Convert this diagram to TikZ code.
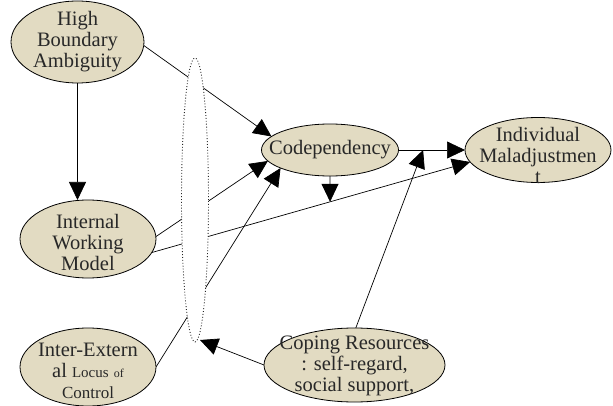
\documentclass[tikz,border=0pt]{standalone}
\usepackage{fontspec}
\setmainfont{Liberation Serif}
\usetikzlibrary{arrows.meta,backgrounds,shapes.geometric}
\definecolor{beige}{RGB}{226,219,194}
\definecolor{txtc}{RGB}{40,40,40}
\tikzset{
  elps/.style={ellipse, draw=black, line width=0.8pt, fill=beige, inner sep=0pt, outer sep=0pt},
  dotel/.style={ellipse, draw=black!85, dotted, line width=0.9pt, fill=white, inner sep=0pt, outer sep=0pt},
  txt/.style={align=center, inner sep=0pt, text=txtc, font=\fontsize{20.5}{21}\selectfont},
  conn/.style={draw=black, line width=0.7pt},
  arr/.style={conn, -{Triangle[length=18pt,width=17pt]}}
}
\begin{document}
\begin{tikzpicture}[x=1pt,y=-1pt]
\useasboundingbox (0,0) rectangle (613,406);
% ellipses
\node[elps, minimum width=133pt, minimum height=82pt] (hba) at (77.5,42) {};
\node[elps, minimum width=136pt, minimum height=78pt] (iwm) at (88,239) {};
\node[elps, minimum width=136pt, minimum height=78pt] (iel) at (88,367) {};
\node[elps, minimum width=137pt, minimum height=52pt] (codep) at (330,150) {};
\node[elps, minimum width=146pt, minimum height=65pt] (im) at (538,150) {};
\node[elps, minimum width=181pt, minimum height=74pt] (cop) at (354.5,365) {};
\node[dotel, minimum width=27pt, minimum height=284pt] (dot) at (195,200) {};
% texts
\node[txt] (hbat) at (77.5,42) {High\\Boundary\\Ambiguity};
\node[txt] (iwmt) at (88,242) {Internal\\Working\\Model};
\node[txt] (ielt) at (88,371) {Inter-Extern\\al {\fontsize{15}{21}\selectfont Locus} {\fontsize{12}{21}\selectfont of}\\{\fontsize{17}{21}\selectfont Control}};
\node[txt] (codept) at (330,150) {Codependency};
\node[txt] (imt) at (538,155) {Individual\\Maladjustmen\\t};
\node[txt] (copt) at (354.5,366) {Coping Resources\\: self-regard,\\social support,};
% connectors
\begin{pgfonlayer}{background}
\path (iwm.-12) -- (im.190) coordinate[pos=0.56] (m1);
\path (codep.east) -- (im.west) coordinate[pos=0.37] (m2);
\coordinate (dt) at (200,340);
\draw[arr] (hba.-3) -- (codep.167);
\draw[arr] (hba.south) -- (hba.south |- iwm.north);
\draw[arr] (iwm.2) -- (codep.190);
\draw[arr] (iwm.-12) -- (im.190);
\draw[arr] (iel.0) -- (codep.200);
\draw[arr] (codep.east) -- (im.west);
\draw[arr] (codep.south) -- (m1);
\draw[arr] (cop.88) -- (m2);
\draw[arr] (cop.180) -- (dt);
\end{pgfonlayer}
\end{tikzpicture}
\end{document}
